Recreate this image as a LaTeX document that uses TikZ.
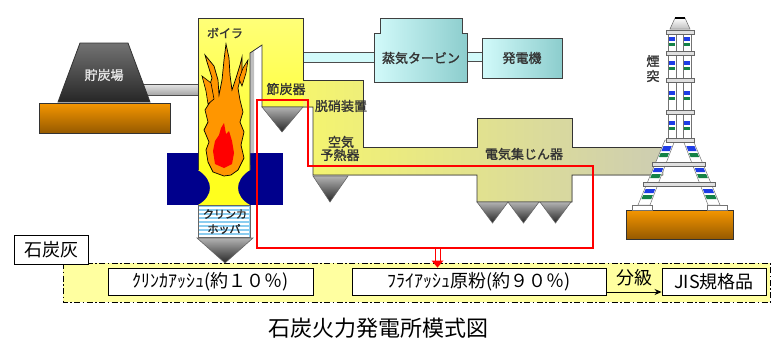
\documentclass[tikz,border=0pt]{standalone}
\usepackage{fontspec}
\newfontfamily\jp{Noto Sans CJK JP}
\newfontfamily\jpb[FakeBold=1.5]{Noto Sans CJK JP}
\usetikzlibrary{arrows.meta,calc}

\definecolor{boilTop}{RGB}{255,255,120}
\definecolor{boilBot}{RGB}{255,255,30}
\definecolor{flueL}{RGB}{245,245,110}
\definecolor{flueR}{RGB}{205,205,178}
\definecolor{navyBox}{RGB}{0,0,140}
\definecolor{flameO}{RGB}{255,150,0}
\definecolor{bandY}{RGB}{255,255,160}
\definecolor{cyanL}{RGB}{210,250,250}
\definecolor{cyanD}{RGB}{140,205,205}
\definecolor{baseO}{RGB}{245,150,0}
\definecolor{baseB}{RGB}{150,90,0}
\definecolor{hopBlue}{RGB}{140,205,240}
\definecolor{bandBlue}{RGB}{30,60,230}
\definecolor{bandGreen}{RGB}{20,130,70}

\begin{document}
\begin{tikzpicture}[x=1pt,y=-1pt,
  outline/.style={draw=black!80, line width=0.8pt},
  hopper/.style={draw=black!60, line width=0.6pt, top color=black!30, bottom color=black!85},
  lbl/.style={font=\jpb\fontsize{13}{13}\selectfont, text=black!80, inner sep=0pt},
  boxlbl/.style={draw=black, line width=0.9pt, fill=white, inner sep=0pt,
    font=\jp\fontsize{18}{18}\selectfont},
  footing/.style={draw=black!80, line width=0.8pt, top color=baseO, bottom color=baseB},
  steel/.style={draw=black!55, line width=0.5pt, fill=white},
  ring/.style={draw=black!60, line width=0.5pt, fill=black!12},
  pipe/.style={draw=black!70, line width=0.7pt, fill=cyanL},
  ashline/.style={draw=red, line width=1.8pt, line join=miter},
  band/.style={fill=bandY, draw=black, line width=0.9pt,
    dash pattern=on 6pt off 2.5pt on 1.5pt off 2.5pt}]
\useasboundingbox (0,0) rectangle (776,338);

% ash handling band
\draw[band] (63,263) rectangle (770,302);

% coal yard with conveyor
\draw[draw=black!70, line width=0.7pt, top color=black!10, bottom color=black!35] (140,84) rectangle (199,95);
\draw[outline, top color=black!55, bottom color=black!85] (80,43) -- (128,43) -- (150,102) -- (58,102) -- cycle;
\draw[footing] (39,103) rectangle (170,133);
\node[lbl, text=black!10] (yardlbl) at (104,75) {貯炭場};

% steam piping, turbine and generator
\draw[pipe] (303,52) rectangle (375,62);
\draw[pipe] (466,52) rectangle (483,61);
\draw[draw=black!75, line width=0.8pt, left color=cyanL, right color=cyanD]
  (374,82) -- (374,33) -- (380,33) -- (380,18) -- (462,18) -- (462,33) -- (467,33) -- (467,82) -- cycle;
\draw[draw=black!75, line width=0.8pt, left color=cyanL, right color=cyanD] (482,38) rectangle (562,78);
\node[lbl] (turblbl) at (421,58) {蒸気タービン};
\node[lbl] (genlbl) at (522,58) {発電機};

% furnace bottom
\fill[navyBox] (167,153) rectangle (283,205);

% boiler column and economizer
\fill[top color=boilTop, bottom color=boilBot]
  (198,18) -- (303,18) -- (303,107) -- (262,107) -- (262,45) -- (250,53) -- (250,170) -- (198,170) -- cycle;
\fill[boilBot] (198,165) -- (250,165) -- (250,170) .. controls (234,180) and (234,196) .. (250,205)
  -- (198,205) .. controls (214,196) and (214,180) .. (198,170) -- cycle;
\fill[black!25] (250,53) -- (254,51) -- (254,153) -- (250,153) -- cycle;

% flue gas path: denitration, air heater, duct, precipitator
\fill[left color=flueL, right color=flueR]
  (303,80) -- (363,80) -- (363,147) -- (477,147) -- (477,118) -- (572,118) -- (572,147) -- (663,147)
  -- (663,175) -- (572,175) -- (572,202) -- (477,202) -- (477,175) -- (313,175) -- (313,107) -- (303,107) -- cycle;
\draw[outline]
  (198,170) -- (198,18) -- (303,18) -- (303,80) -- (363,80) -- (363,147) -- (477,147) -- (477,118)
  -- (572,118) -- (572,147) -- (663,147);
\draw[outline]
  (663,175) -- (572,175) -- (572,202) -- (477,202) -- (477,175) -- (313,175) -- (313,107)
  -- (262,107) -- (262,45) -- (250,53) -- (250,170);

% ash hoppers
\draw[hopper] (262,107) -- (303,107) -- (282,132) -- cycle;
\draw[hopper] (313,176) -- (348,176) -- (330,202) -- cycle;
\foreach \xa in {477,508,540}
  \draw[hopper] (\xa,202) -- (\xa+31,202) -- (\xa+15.5,223) -- cycle;

% flames
\draw[fill=flameO, draw=black, line width=0.7pt, line join=miter]
  (224,176) -- (213,172) -- (208,162) -- (206,150) -- (209,142) -- (204,130) -- (208,122) -- (205,110)
  -- (210,102) -- (208,90) -- (212,78) -- (207,62) -- (205,55) -- (214,66) -- (218,80) -- (219,95)
  -- (222,80) -- (224,60) -- (226,44) -- (229,58) -- (230,75) -- (232,90) -- (236,78) -- (240,65)
  -- (242,57) -- (242,72) -- (238,88) -- (240,100) -- (243,112) -- (240,122) -- (244,132) -- (241,145)
  -- (244,158) -- (238,170) -- (231,175) -- cycle;
\draw[fill=flameO, draw=black, line width=0.6pt] (202,76) -- (211,83) -- (214,99) -- (208,104) -- (206,91) -- cycle;
\draw[fill=flameO, draw=black, line width=0.6pt] (248,60) -- (246,73) -- (242,86) -- (239,79) -- (243,68) -- cycle;
\fill[red] (224,168) -- (215,164) -- (213,151) -- (215,141) -- (219,135) -- (221,128) -- (224,123)
  -- (226,134) -- (229,131) -- (232,141) -- (234,153) -- (232,164) -- cycle;

% clinker hopper
\fill[hopBlue] (198,205) rectangle (250,237);
\foreach \ys in {208,212,...,236}
  \draw[white, line width=1.3pt] (199,\ys) -- (249,\ys);
\draw[draw=black!60, line width=0.6pt] (198,205) rectangle (250,237);
\node[lbl, font=\jpb\fontsize{11}{11}\selectfont, text=black!85] (hoplbl1) at (225,214) {クリンカ};
\node[lbl, font=\jpb\fontsize{11}{11}\selectfont, text=black!85] (hoplbl2) at (224,229) {ホッパ};
\draw[hopper] (197,238) -- (253,238) -- (225,263) -- cycle;

% chimney
\draw[footing] (626,210) rectangle (733,239);
\draw[steel] (632,205) rectangle (652,210);
\draw[steel] (707,205) rectangle (727,210);
\draw[steel] (665,140) -- (675,140) -- (650,205) -- (638,205) -- cycle;
\draw[steel] (683,140) -- (693,140) -- (720,205) -- (708,205) -- cycle;
\foreach \ya/\yb/\cc in {146/151/bandBlue,153/157/bandGreen,168/172/bandBlue,174/178/bandGreen,189/193/bandBlue,195/199/bandGreen}{
  \fill[\cc] ({666-0.4154*(\ya-140)},\ya) -- ({674-0.3846*(\ya-140)},\ya) -- ({674-0.3846*(\yb-140)},\yb) -- ({666-0.4154*(\yb-140)},\yb) -- cycle;
  \fill[\cc] ({684+0.3846*(\ya-140)},\ya) -- ({692+0.4154*(\ya-140)},\ya) -- ({692+0.4154*(\yb-140)},\yb) -- ({684+0.3846*(\yb-140)},\yb) -- cycle;
}
\draw[ring] (652,162) rectangle (705,166);
\draw[ring] (643,182) rectangle (715,186);
\draw[steel] (668,30) rectangle (676,140);
\draw[steel] (683,30) rectangle (691,140);
\foreach \cy in {42,66,96,126}{
  \fill[bandBlue] (669,\cy-5) rectangle (675,\cy-1);
  \fill[bandGreen] (669,\cy+1) rectangle (675,\cy+4);
  \fill[bandBlue] (684,\cy-5) rectangle (690,\cy-1);
  \fill[bandGreen] (684,\cy+1) rectangle (690,\cy+4);
}
\foreach \ry in {32,53,80,112,140}
  \draw[ring] (666,\ry-2) rectangle (694,\ry+2);
\draw[draw=black!60, line width=0.5pt, top color=white, bottom color=black!25]
  (675,18) -- (685,18) -- (690,29) -- (670,29) -- cycle;
\draw[black, line width=1.2pt] (675,18) -- (685,18);
\node[lbl] (stack1) at (653,61) {煙};
\node[lbl] (stack2) at (653,76) {突};

% ash collection route
\draw[ashline] (257,100) -- (308,100) -- (308,166) -- (593,166) -- (593,248) -- (257,248) -- cycle;

% plant labels
\node[lbl, font=\jpb\fontsize{12}{12}\selectfont] (boilerlbl) at (225,33) {ボイラ};
\node[lbl] (ecolbl) at (286,89) {節炭器};
\node[lbl] (denoxlbl) at (341,106) {脱硝装置};
\node[lbl] (aphlbl1) at (341,142) {空気};
\node[lbl] (aphlbl2) at (340,155) {予熱器};
\node[lbl] (esplbl) at (524,154) {電気集じん器};

% ash products
\node[boxlbl, minimum width=74pt, minimum height=29pt] (ash) at (51,249.5) {石炭灰};
\node[boxlbl, minimum width=205pt, minimum height=27pt] (clinker) at (210.5,281.5) {ｸﾘﾝｶｱｯｼｭ(約１０％)};
\node[boxlbl, minimum width=254pt, minimum height=27pt] (fly) at (479,281.5) {ﾌﾗｲｱｯｼｭ原粉(約９０％)};
\node[boxlbl, minimum width=104pt, minimum height=27pt] (jis) at (714,281.5) {JIS規格品};
\node[inner sep=0pt, font=\jp\fontsize{18}{18}\selectfont] (classify) at (634,278) {分級};
\draw[-{Stealth[length=7pt,width=6pt]}, line width=0.9pt] ([yshift=-10.5pt]fly.east) -- ([yshift=-10.5pt]jis.west);

% fly ash transfer arrow
\coordinate (ashout) at (437.5,248);
\draw[red, line width=1pt] ([xshift=-2.5pt]ashout) -- ++(0,13);
\draw[red, line width=1pt] ([xshift=2.5pt]ashout) -- ++(0,13);
\fill[red] ($(ashout |- fly.north)+(-6,-7)$) -- ($(ashout |- fly.north)+(6,-7)$) -- (ashout |- fly.north) -- cycle;

% caption
\node[inner sep=0pt, font=\jp\fontsize{22}{22}\selectfont] (caption) at (378,328) {石炭火力発電所模式図};
\end{tikzpicture}
\end{document}
